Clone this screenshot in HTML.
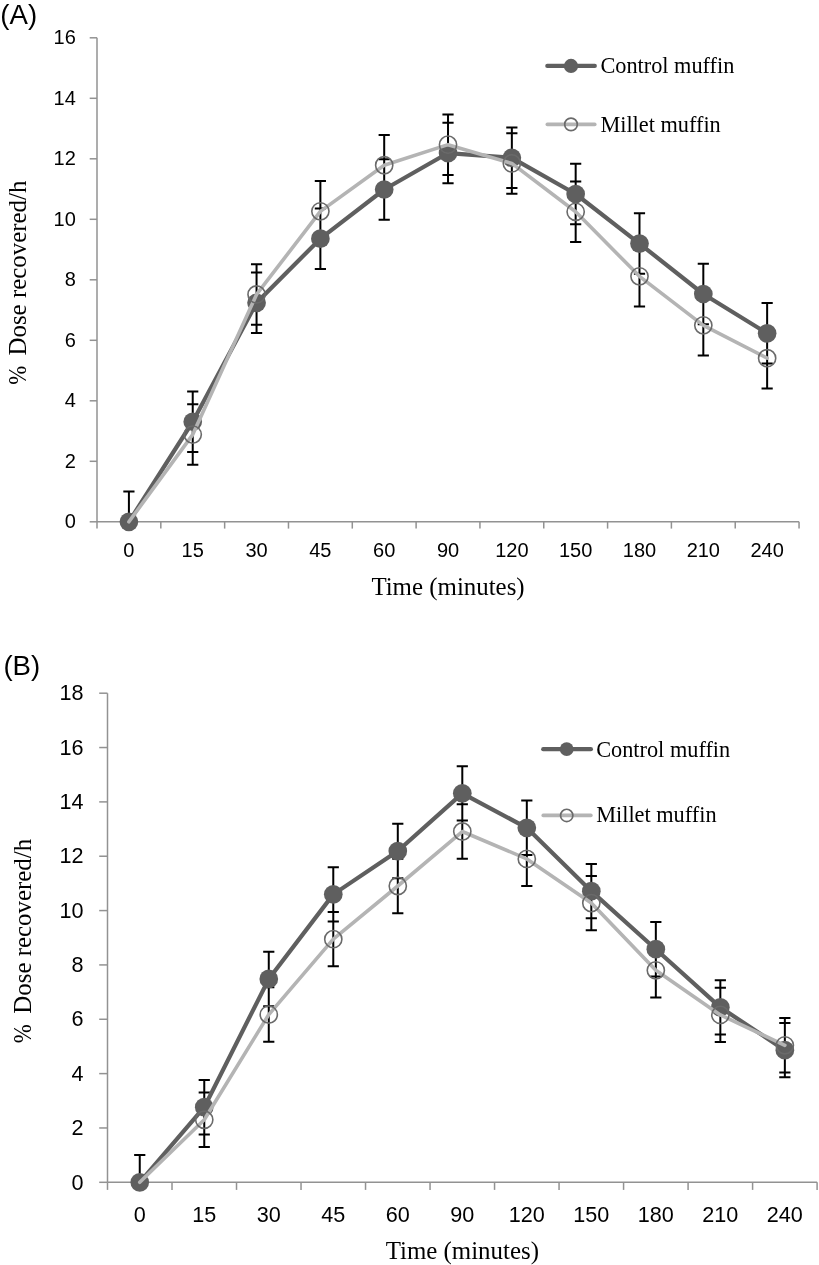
<!DOCTYPE html>
<html><head><meta charset="utf-8"><style>
html,body{margin:0;padding:0;background:#fff;}
svg{display:block;will-change:transform;}
.tk{font-family:"Liberation Sans",sans-serif;fill:#000;}
.ti{font-family:"Liberation Serif",serif;font-size:24.9px;fill:#000;}
.lg{font-family:"Liberation Serif",serif;font-size:22.3px;fill:#000;}
.pl{font-family:"Liberation Sans",sans-serif;font-size:27.6px;fill:#000;}
</style></head><body>
<svg width="819" height="1265" viewBox="0 0 819 1265">
<rect width="819" height="1265" fill="#fff"/>
<line x1="97.0" y1="37.8" x2="97.0" y2="521.8" stroke="#929292" stroke-width="1.5"/>
<line x1="89.7" y1="521.80" x2="97.0" y2="521.80" stroke="#929292" stroke-width="1.5"/>
<text x="75.8" y="528.00" text-anchor="end" class="tk" font-size="20.0">0</text>
<line x1="89.7" y1="461.30" x2="97.0" y2="461.30" stroke="#929292" stroke-width="1.5"/>
<text x="75.8" y="467.50" text-anchor="end" class="tk" font-size="20.0">2</text>
<line x1="89.7" y1="400.80" x2="97.0" y2="400.80" stroke="#929292" stroke-width="1.5"/>
<text x="75.8" y="407.00" text-anchor="end" class="tk" font-size="20.0">4</text>
<line x1="89.7" y1="340.30" x2="97.0" y2="340.30" stroke="#929292" stroke-width="1.5"/>
<text x="75.8" y="346.50" text-anchor="end" class="tk" font-size="20.0">6</text>
<line x1="89.7" y1="279.80" x2="97.0" y2="279.80" stroke="#929292" stroke-width="1.5"/>
<text x="75.8" y="286.00" text-anchor="end" class="tk" font-size="20.0">8</text>
<line x1="89.7" y1="219.30" x2="97.0" y2="219.30" stroke="#929292" stroke-width="1.5"/>
<text x="75.8" y="225.50" text-anchor="end" class="tk" font-size="20.0">10</text>
<line x1="89.7" y1="158.80" x2="97.0" y2="158.80" stroke="#929292" stroke-width="1.5"/>
<text x="75.8" y="165.00" text-anchor="end" class="tk" font-size="20.0">12</text>
<line x1="89.7" y1="98.30" x2="97.0" y2="98.30" stroke="#929292" stroke-width="1.5"/>
<text x="75.8" y="104.50" text-anchor="end" class="tk" font-size="20.0">14</text>
<line x1="89.7" y1="37.80" x2="97.0" y2="37.80" stroke="#929292" stroke-width="1.5"/>
<text x="75.8" y="44.00" text-anchor="end" class="tk" font-size="20.0">16</text>
<line x1="97.0" y1="521.8" x2="799.05" y2="521.8" stroke="#929292" stroke-width="1.5"/>
<line x1="97.00" y1="521.8" x2="97.00" y2="528.5999999999999" stroke="#929292" stroke-width="1.5"/>
<line x1="160.82" y1="521.8" x2="160.82" y2="528.5999999999999" stroke="#929292" stroke-width="1.5"/>
<line x1="224.65" y1="521.8" x2="224.65" y2="528.5999999999999" stroke="#929292" stroke-width="1.5"/>
<line x1="288.47" y1="521.8" x2="288.47" y2="528.5999999999999" stroke="#929292" stroke-width="1.5"/>
<line x1="352.29" y1="521.8" x2="352.29" y2="528.5999999999999" stroke="#929292" stroke-width="1.5"/>
<line x1="416.11" y1="521.8" x2="416.11" y2="528.5999999999999" stroke="#929292" stroke-width="1.5"/>
<line x1="479.94" y1="521.8" x2="479.94" y2="528.5999999999999" stroke="#929292" stroke-width="1.5"/>
<line x1="543.76" y1="521.8" x2="543.76" y2="528.5999999999999" stroke="#929292" stroke-width="1.5"/>
<line x1="607.58" y1="521.8" x2="607.58" y2="528.5999999999999" stroke="#929292" stroke-width="1.5"/>
<line x1="671.40" y1="521.8" x2="671.40" y2="528.5999999999999" stroke="#929292" stroke-width="1.5"/>
<line x1="735.23" y1="521.8" x2="735.23" y2="528.5999999999999" stroke="#929292" stroke-width="1.5"/>
<line x1="799.05" y1="521.8" x2="799.05" y2="528.5999999999999" stroke="#929292" stroke-width="1.5"/>
<text x="128.91" y="557.0" text-anchor="middle" class="tk" font-size="20.0">0</text>
<text x="192.73" y="557.0" text-anchor="middle" class="tk" font-size="20.0">15</text>
<text x="256.56" y="557.0" text-anchor="middle" class="tk" font-size="20.0">30</text>
<text x="320.38" y="557.0" text-anchor="middle" class="tk" font-size="20.0">45</text>
<text x="384.20" y="557.0" text-anchor="middle" class="tk" font-size="20.0">60</text>
<text x="448.02" y="557.0" text-anchor="middle" class="tk" font-size="20.0">90</text>
<text x="511.85" y="557.0" text-anchor="middle" class="tk" font-size="20.0">120</text>
<text x="575.67" y="557.0" text-anchor="middle" class="tk" font-size="20.0">150</text>
<text x="639.49" y="557.0" text-anchor="middle" class="tk" font-size="20.0">180</text>
<text x="703.32" y="557.0" text-anchor="middle" class="tk" font-size="20.0">210</text>
<text x="767.14" y="557.0" text-anchor="middle" class="tk" font-size="20.0">240</text>
<path d="M128.91 491.55V521.80M123.31 491.55H134.51M192.73 391.50V452.00M187.13 391.50H198.33M187.13 452.00H198.33M256.56 272.55V333.05M250.96 272.55H262.16M250.96 333.05H262.16M320.38 208.40V268.90M314.78 208.40H325.98M314.78 268.90H325.98M384.20 159.25V219.75M378.60 159.25H389.80M378.60 219.75H389.80M448.02 122.80V183.30M442.42 122.80H453.62M442.42 183.30H453.62M511.85 127.55V188.05M506.25 127.55H517.45M506.25 188.05H517.45M575.67 163.75V224.25M570.07 163.75H581.27M570.07 224.25H581.27M639.49 213.35V273.85M633.89 213.35H645.09M633.89 273.85H645.09M703.32 263.75V324.25M697.72 263.75H708.92M697.72 324.25H708.92M767.14 303.05V363.55M761.54 303.05H772.74M761.54 363.55H772.74M128.91 491.55V521.80M123.31 491.55H134.51M192.73 404.35V464.85M187.13 404.35H198.33M187.13 464.85H198.33M256.56 264.20V324.70M250.96 264.20H262.16M250.96 324.70H262.16M320.38 181.10V241.60M314.78 181.10H325.98M314.78 241.60H325.98M384.20 135.00V195.50M378.60 135.00H389.80M378.60 195.50H389.80M448.02 114.40V174.90M442.42 114.40H453.62M442.42 174.90H453.62M511.85 133.15V193.65M506.25 133.15H517.45M506.25 193.65H517.45M575.67 181.55V242.05M570.07 181.55H581.27M570.07 242.05H581.27M639.49 246.10V306.60M633.89 246.10H645.09M633.89 306.60H645.09M703.32 295.10V355.60M697.72 295.10H708.92M697.72 355.60H708.92M767.14 327.95V388.45M761.54 327.95H772.74M761.54 388.45H772.74" stroke="#000" stroke-width="2.0" fill="none"/>
<polyline points="128.91,521.80 192.73,421.75 256.56,302.80 320.38,238.65 384.20,189.50 448.02,153.05 511.85,157.80 575.67,194.00 639.49,243.60 703.32,294.00 767.14,333.30" fill="none" stroke="#5f5f5f" stroke-width="4.2" stroke-linejoin="round" stroke-linecap="round"/>
<circle cx="128.91" cy="521.80" r="9.35" fill="#5f5f5f"/>
<circle cx="192.73" cy="421.75" r="9.35" fill="#5f5f5f"/>
<circle cx="256.56" cy="302.80" r="9.35" fill="#5f5f5f"/>
<circle cx="320.38" cy="238.65" r="9.35" fill="#5f5f5f"/>
<circle cx="384.20" cy="189.50" r="9.35" fill="#5f5f5f"/>
<circle cx="448.02" cy="153.05" r="9.35" fill="#5f5f5f"/>
<circle cx="511.85" cy="157.80" r="9.35" fill="#5f5f5f"/>
<circle cx="575.67" cy="194.00" r="9.35" fill="#5f5f5f"/>
<circle cx="639.49" cy="243.60" r="9.35" fill="#5f5f5f"/>
<circle cx="703.32" cy="294.00" r="9.35" fill="#5f5f5f"/>
<circle cx="767.14" cy="333.30" r="9.35" fill="#5f5f5f"/>
<polyline points="128.91,521.80 192.73,434.60 256.56,294.45 320.38,211.35 384.20,165.25 448.02,144.65 511.85,163.40 575.67,211.80 639.49,276.35 703.32,325.35 767.14,358.20" fill="none" stroke="#b4b4b4" stroke-width="3.6" stroke-linejoin="round" stroke-linecap="round"/>
<circle cx="192.73" cy="434.60" r="8.6" fill="none" stroke="#6a6a6a" stroke-width="1.6"/>
<circle cx="256.56" cy="294.45" r="8.6" fill="none" stroke="#6a6a6a" stroke-width="1.6"/>
<circle cx="320.38" cy="211.35" r="8.6" fill="none" stroke="#6a6a6a" stroke-width="1.6"/>
<circle cx="384.20" cy="165.25" r="8.6" fill="none" stroke="#6a6a6a" stroke-width="1.6"/>
<circle cx="448.02" cy="144.65" r="8.6" fill="none" stroke="#6a6a6a" stroke-width="1.6"/>
<circle cx="511.85" cy="163.40" r="8.6" fill="none" stroke="#6a6a6a" stroke-width="1.6"/>
<circle cx="575.67" cy="211.80" r="8.6" fill="none" stroke="#6a6a6a" stroke-width="1.6"/>
<circle cx="639.49" cy="276.35" r="8.6" fill="none" stroke="#6a6a6a" stroke-width="1.6"/>
<circle cx="703.32" cy="325.35" r="8.6" fill="none" stroke="#6a6a6a" stroke-width="1.6"/>
<circle cx="767.14" cy="358.20" r="8.6" fill="none" stroke="#6a6a6a" stroke-width="1.6"/>
<line x1="547.3" y1="65.9" x2="594.8" y2="65.9" stroke="#5f5f5f" stroke-width="4.2" stroke-linecap="round"/>
<circle cx="571" cy="65.9" r="7.1" fill="#5f5f5f"/>
<text x="600.4" y="73.2" class="lg">Control muffin</text>
<line x1="547.3" y1="124.4" x2="594.8" y2="124.4" stroke="#b4b4b4" stroke-width="3.6" stroke-linecap="round"/>
<circle cx="571" cy="124.4" r="6.3" fill="none" stroke="#6a6a6a" stroke-width="1.7"/>
<text x="600.4" y="131.5" class="lg">Millet muffin</text>
<text x="448.02" y="594.7" text-anchor="middle" class="ti">Time (minutes)</text>
<text transform="translate(25.6,384.7) rotate(-90) scale(0.92,1)" class="ti">%</text>
<text transform="translate(25.6,355.5) rotate(-90)" class="ti">Dose recovered/h</text>
<text x="0.3" y="23.8" class="pl">(A)</text>
<line x1="107.5" y1="693.2" x2="107.5" y2="1182.3" stroke="#929292" stroke-width="1.5"/>
<line x1="99.2" y1="1182.30" x2="107.5" y2="1182.30" stroke="#929292" stroke-width="1.5"/>
<text x="83.5" y="1189.50" text-anchor="end" class="tk" font-size="21.6">0</text>
<line x1="99.2" y1="1127.96" x2="107.5" y2="1127.96" stroke="#929292" stroke-width="1.5"/>
<text x="83.5" y="1135.16" text-anchor="end" class="tk" font-size="21.6">2</text>
<line x1="99.2" y1="1073.61" x2="107.5" y2="1073.61" stroke="#929292" stroke-width="1.5"/>
<text x="83.5" y="1080.81" text-anchor="end" class="tk" font-size="21.6">4</text>
<line x1="99.2" y1="1019.27" x2="107.5" y2="1019.27" stroke="#929292" stroke-width="1.5"/>
<text x="83.5" y="1026.47" text-anchor="end" class="tk" font-size="21.6">6</text>
<line x1="99.2" y1="964.92" x2="107.5" y2="964.92" stroke="#929292" stroke-width="1.5"/>
<text x="83.5" y="972.12" text-anchor="end" class="tk" font-size="21.6">8</text>
<line x1="99.2" y1="910.58" x2="107.5" y2="910.58" stroke="#929292" stroke-width="1.5"/>
<text x="83.5" y="917.78" text-anchor="end" class="tk" font-size="21.6">10</text>
<line x1="99.2" y1="856.23" x2="107.5" y2="856.23" stroke="#929292" stroke-width="1.5"/>
<text x="83.5" y="863.43" text-anchor="end" class="tk" font-size="21.6">12</text>
<line x1="99.2" y1="801.89" x2="107.5" y2="801.89" stroke="#929292" stroke-width="1.5"/>
<text x="83.5" y="809.09" text-anchor="end" class="tk" font-size="21.6">14</text>
<line x1="99.2" y1="747.54" x2="107.5" y2="747.54" stroke="#929292" stroke-width="1.5"/>
<text x="83.5" y="754.74" text-anchor="end" class="tk" font-size="21.6">16</text>
<line x1="99.2" y1="693.20" x2="107.5" y2="693.20" stroke="#929292" stroke-width="1.5"/>
<text x="83.5" y="700.40" text-anchor="end" class="tk" font-size="21.6">18</text>
<line x1="107.5" y1="1182.3" x2="817.1" y2="1182.3" stroke="#929292" stroke-width="1.5"/>
<line x1="107.50" y1="1182.3" x2="107.50" y2="1189.8999999999999" stroke="#929292" stroke-width="1.5"/>
<line x1="172.01" y1="1182.3" x2="172.01" y2="1189.8999999999999" stroke="#929292" stroke-width="1.5"/>
<line x1="236.52" y1="1182.3" x2="236.52" y2="1189.8999999999999" stroke="#929292" stroke-width="1.5"/>
<line x1="301.03" y1="1182.3" x2="301.03" y2="1189.8999999999999" stroke="#929292" stroke-width="1.5"/>
<line x1="365.54" y1="1182.3" x2="365.54" y2="1189.8999999999999" stroke="#929292" stroke-width="1.5"/>
<line x1="430.05" y1="1182.3" x2="430.05" y2="1189.8999999999999" stroke="#929292" stroke-width="1.5"/>
<line x1="494.55" y1="1182.3" x2="494.55" y2="1189.8999999999999" stroke="#929292" stroke-width="1.5"/>
<line x1="559.06" y1="1182.3" x2="559.06" y2="1189.8999999999999" stroke="#929292" stroke-width="1.5"/>
<line x1="623.57" y1="1182.3" x2="623.57" y2="1189.8999999999999" stroke="#929292" stroke-width="1.5"/>
<line x1="688.08" y1="1182.3" x2="688.08" y2="1189.8999999999999" stroke="#929292" stroke-width="1.5"/>
<line x1="752.59" y1="1182.3" x2="752.59" y2="1189.8999999999999" stroke="#929292" stroke-width="1.5"/>
<line x1="817.10" y1="1182.3" x2="817.10" y2="1189.8999999999999" stroke="#929292" stroke-width="1.5"/>
<text x="139.75" y="1222" text-anchor="middle" class="tk" font-size="21.6">0</text>
<text x="204.26" y="1222" text-anchor="middle" class="tk" font-size="21.6">15</text>
<text x="268.77" y="1222" text-anchor="middle" class="tk" font-size="21.6">30</text>
<text x="333.28" y="1222" text-anchor="middle" class="tk" font-size="21.6">45</text>
<text x="397.79" y="1222" text-anchor="middle" class="tk" font-size="21.6">60</text>
<text x="462.30" y="1222" text-anchor="middle" class="tk" font-size="21.6">90</text>
<text x="526.81" y="1222" text-anchor="middle" class="tk" font-size="21.6">120</text>
<text x="591.32" y="1222" text-anchor="middle" class="tk" font-size="21.6">150</text>
<text x="655.83" y="1222" text-anchor="middle" class="tk" font-size="21.6">180</text>
<text x="720.34" y="1222" text-anchor="middle" class="tk" font-size="21.6">210</text>
<text x="784.85" y="1222" text-anchor="middle" class="tk" font-size="21.6">240</text>
<path d="M139.75 1155.10V1182.30M134.15 1155.10H145.35M204.26 1080.00V1134.40M198.66 1080.00H209.86M198.66 1134.40H209.86M268.77 951.75V1006.15M263.17 951.75H274.37M263.17 1006.15H274.37M333.28 867.17V921.57M327.68 867.17H338.88M327.68 921.57H338.88M397.79 823.85V878.25M392.19 823.85H403.39M392.19 878.25H403.39M462.30 766.13V820.53M456.70 766.13H467.90M456.70 820.53H467.90M526.81 800.60V855.00M521.21 800.60H532.41M521.21 855.00H532.41M591.32 863.96V918.36M585.72 863.96H596.92M585.72 918.36H596.92M655.83 922.00V976.40M650.23 922.00H661.43M650.23 976.40H661.43M720.34 980.15V1034.55M714.74 980.15H725.94M714.74 1034.55H725.94M784.85 1022.95V1077.35M779.25 1022.95H790.45M779.25 1077.35H790.45M139.75 1155.10V1182.30M134.15 1155.10H145.35M204.26 1092.55V1146.95M198.66 1092.55H209.86M198.66 1146.95H209.86M268.77 987.35V1041.75M263.17 987.35H274.37M263.17 1041.75H274.37M333.28 911.95V966.35M327.68 911.95H338.88M327.68 966.35H338.88M397.79 858.80V913.20M392.19 858.80H403.39M392.19 913.20H403.39M462.30 804.30V858.70M456.70 804.30H467.90M456.70 858.70H467.90M526.81 831.70V886.10M521.21 831.70H532.41M521.21 886.10H532.41M591.32 875.90V930.30M585.72 875.90H596.92M585.72 930.30H596.92M655.83 943.10V997.50M650.23 943.10H661.43M650.23 997.50H661.43M720.34 987.70V1042.10M714.74 987.70H725.94M714.74 1042.10H725.94M784.85 1018.10V1072.50M779.25 1018.10H790.45M779.25 1072.50H790.45" stroke="#000" stroke-width="2.0" fill="none"/>
<polyline points="139.75,1182.30 204.26,1107.20 268.77,978.95 333.28,894.37 397.79,851.05 462.30,793.33 526.81,827.80 591.32,891.16 655.83,949.20 720.34,1007.35 784.85,1050.15" fill="none" stroke="#5f5f5f" stroke-width="4.2" stroke-linejoin="round" stroke-linecap="round"/>
<circle cx="139.75" cy="1182.30" r="9.35" fill="#5f5f5f"/>
<circle cx="204.26" cy="1107.20" r="9.35" fill="#5f5f5f"/>
<circle cx="268.77" cy="978.95" r="9.35" fill="#5f5f5f"/>
<circle cx="333.28" cy="894.37" r="9.35" fill="#5f5f5f"/>
<circle cx="397.79" cy="851.05" r="9.35" fill="#5f5f5f"/>
<circle cx="462.30" cy="793.33" r="9.35" fill="#5f5f5f"/>
<circle cx="526.81" cy="827.80" r="9.35" fill="#5f5f5f"/>
<circle cx="591.32" cy="891.16" r="9.35" fill="#5f5f5f"/>
<circle cx="655.83" cy="949.20" r="9.35" fill="#5f5f5f"/>
<circle cx="720.34" cy="1007.35" r="9.35" fill="#5f5f5f"/>
<circle cx="784.85" cy="1050.15" r="9.35" fill="#5f5f5f"/>
<polyline points="139.75,1182.30 204.26,1119.75 268.77,1014.55 333.28,939.15 397.79,886.00 462.30,831.50 526.81,858.90 591.32,903.10 655.83,970.30 720.34,1014.90 784.85,1045.30" fill="none" stroke="#b4b4b4" stroke-width="3.6" stroke-linejoin="round" stroke-linecap="round"/>
<circle cx="204.26" cy="1119.75" r="8.6" fill="none" stroke="#6a6a6a" stroke-width="1.6"/>
<circle cx="268.77" cy="1014.55" r="8.6" fill="none" stroke="#6a6a6a" stroke-width="1.6"/>
<circle cx="333.28" cy="939.15" r="8.6" fill="none" stroke="#6a6a6a" stroke-width="1.6"/>
<circle cx="397.79" cy="886.00" r="8.6" fill="none" stroke="#6a6a6a" stroke-width="1.6"/>
<circle cx="462.30" cy="831.50" r="8.6" fill="none" stroke="#6a6a6a" stroke-width="1.6"/>
<circle cx="526.81" cy="858.90" r="8.6" fill="none" stroke="#6a6a6a" stroke-width="1.6"/>
<circle cx="591.32" cy="903.10" r="8.6" fill="none" stroke="#6a6a6a" stroke-width="1.6"/>
<circle cx="655.83" cy="970.30" r="8.6" fill="none" stroke="#6a6a6a" stroke-width="1.6"/>
<circle cx="720.34" cy="1014.90" r="8.6" fill="none" stroke="#6a6a6a" stroke-width="1.6"/>
<circle cx="784.85" cy="1045.30" r="8.6" fill="none" stroke="#6a6a6a" stroke-width="1.6"/>
<line x1="543.2" y1="749.2" x2="590.9" y2="749.2" stroke="#5f5f5f" stroke-width="4.2" stroke-linecap="round"/>
<circle cx="566.7" cy="749.2" r="6.9" fill="#5f5f5f"/>
<text x="596.2" y="756.7" class="lg">Control muffin</text>
<line x1="543.2" y1="815.4" x2="590.9" y2="815.4" stroke="#b4b4b4" stroke-width="3.6" stroke-linecap="round"/>
<circle cx="566.7" cy="815.4" r="6.15" fill="none" stroke="#6a6a6a" stroke-width="1.7"/>
<text x="596.2" y="822.2" class="lg">Millet muffin</text>
<text x="462.30" y="1259.3" text-anchor="middle" class="ti">Time (minutes)</text>
<text transform="translate(31,1043.3) rotate(-90) scale(0.92,1)" class="ti">%</text>
<text transform="translate(31,1013.7) rotate(-90)" class="ti">Dose recovered/h</text>
<text x="3.4" y="675.4" class="pl">(B)</text>
</svg>
</body></html>
